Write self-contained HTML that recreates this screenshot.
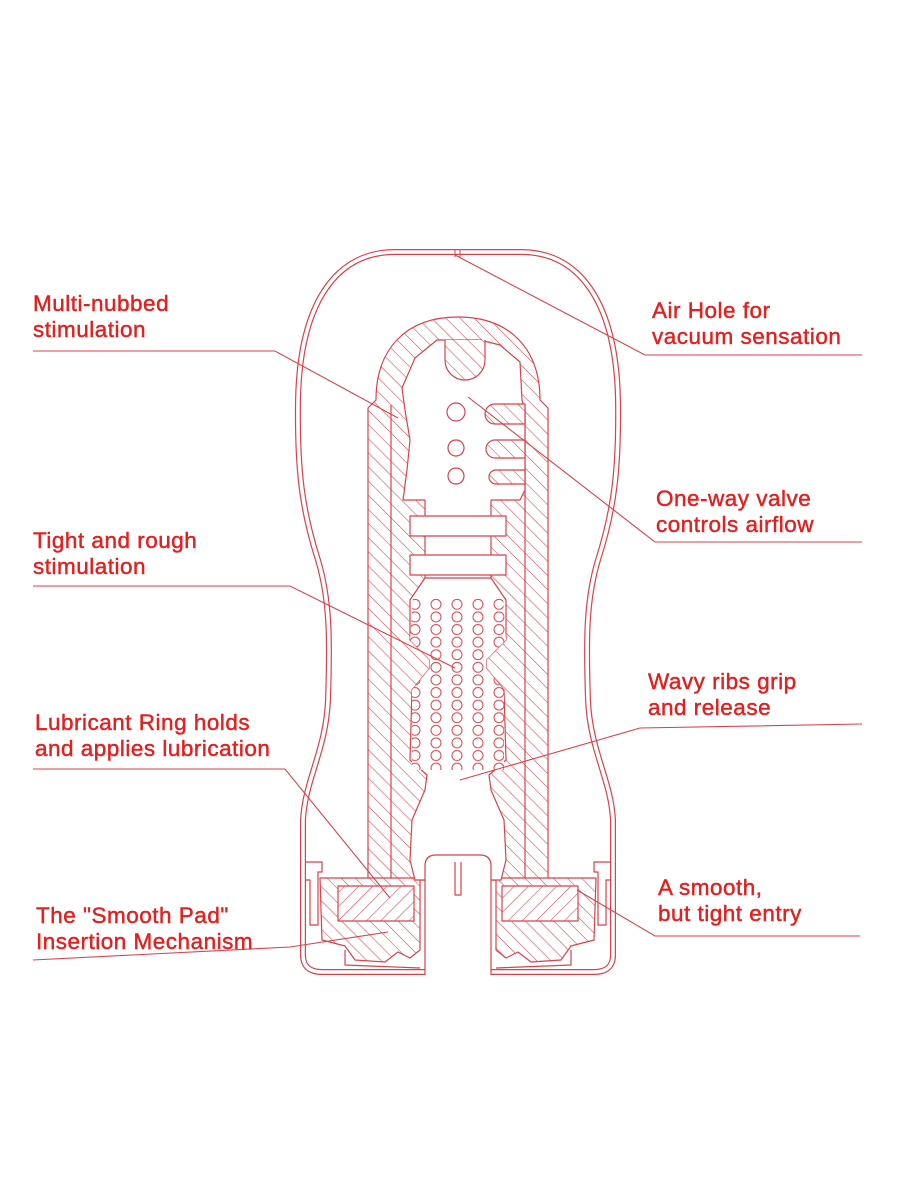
<!DOCTYPE html>
<html><head><meta charset="utf-8"><style>
html,body{margin:0;padding:0;background:#fff}
svg{display:block}
text{font-family:"Liberation Sans",sans-serif;font-size:22.5px;fill:#e3201f;stroke:#e3201f;stroke-width:0.45;letter-spacing:0.5px}
</style></head><body>
<svg width="900" height="1200" viewBox="0 0 900 1200" xmlns="http://www.w3.org/2000/svg">
<defs>
<pattern id="h1" width="10" height="10" patternUnits="userSpaceOnUse" patternTransform="rotate(-45)">
<rect width="10" height="10" fill="#fff"/><line x1="0" y1="0" x2="0" y2="10" stroke="#d8424a" stroke-width="1.1"/></pattern>
<pattern id="h2" width="10" height="10" patternUnits="userSpaceOnUse" patternTransform="rotate(45)">
<rect width="10" height="10" fill="#fff"/><line x1="0" y1="0" x2="0" y2="10" stroke="#d8424a" stroke-width="1.1"/></pattern>
<pattern id="dots" width="21" height="12.6" patternUnits="userSpaceOnUse" x="404.5" y="598">
<rect width="21" height="12.6" fill="#fff"/><circle cx="10.5" cy="6.3" r="5" fill="none" stroke="#d8424a" stroke-width="1"/></pattern>
<path id="shellL" d="M458,252 L395,252 C338,252 300,300 298,400 C297,470 302,510 318,560 C330,600 330,640 328,700 C326,750 305,780 303,820 L303,955 Q303,972 322,972 L425,972"/>
</defs>

<g fill="none" stroke-linejoin="round">
<use href="#shellL" stroke="#d8424a" stroke-width="6"/>
<use href="#shellL" stroke="#fff" stroke-width="3.6"/>
<use href="#shellL" transform="translate(916,0) scale(-1,1)" stroke="#d8424a" stroke-width="6"/>
<use href="#shellL" transform="translate(916,0) scale(-1,1)" stroke="#fff" stroke-width="3.6"/>
<line x1="455" y1="250" x2="455" y2="257" stroke="#d8424a"/>
<line x1="460" y1="250" x2="460" y2="257" stroke="#d8424a"/>
</g>

<g stroke="#d8424a" stroke-width="1.2" stroke-linejoin="round">
<path d="M458,317 C405,317 376,350 376,400 L368,408 L368,880 L548,880 L548,408 L540,400 C540,350 511,317 458,317 Z" fill="url(#h1)"/>
<line x1="391" y1="405" x2="391" y2="878" fill="none"/>
<line x1="525" y1="405" x2="525" y2="878" fill="none"/>
<path d="M320,878 L420,878 L420,950 L410,958 L398,952 L385,962 L355,960 L345,946 L322,940 Z" fill="url(#h1)"/>
<path d="M596,878 L496,878 L496,950 L506,958 L518,952 L531,962 L561,960 L571,946 L594,940 Z" fill="url(#h1)"/>
<rect x="338" y="886" width="76" height="35" fill="url(#h2)"/>
<rect x="502" y="886" width="76" height="35" fill="url(#h2)"/>
<path d="M306,862 L322,862 L322,872 L318,872 L318,925 L310,925 L310,880 L306,880" fill="none"/>
<path d="M610,862 L594,862 L594,872 L598,872 L598,925 L606,925 L606,880 L610,880" fill="none"/>
<path d="M345,950 L345,965 L420,968" fill="none"/>
<path d="M571,950 L571,965 L496,968" fill="none"/>
<path d="M402,388 L415,358 L437,340 L480,340 L500,345 L520,362 L522,400 L525,410 L525,490 L520,500 L403,500 L407,470 L410,440 L405,410 Z" fill="#fff"/>
<path d="M445,340 L445,360 A20,20 0 0 0 485,360 L485,340" fill="url(#h1)"/>
<path d="M525,404 L495,404 A8,8 0 0 0 495,424 L525,424 Z" fill="url(#h1)"/>
<path d="M525,440 L495,440 A9,9 0 0 0 495,458 L525,458 Z" fill="url(#h1)"/>
<path d="M525,470 L496,470 A7,7 0 0 0 496,484 L525,484 Z" fill="url(#h1)"/>
<circle cx="456" cy="412" r="9" fill="#fff"/>
<circle cx="456" cy="448" r="8" fill="#fff"/>
<circle cx="456" cy="476" r="8" fill="#fff"/>
<rect x="425" y="499" width="66" height="92" fill="#fff" stroke="none"/>
<line x1="425" y1="500" x2="425" y2="590"/><line x1="491" y1="500" x2="491" y2="590"/>
<rect x="410" y="516" width="96" height="20" fill="#fff"/>
<rect x="410" y="555" width="96" height="20" fill="#fff"/>
<path d="M425,578 L410,600 L410,640 L430,660 L430,668 L412,690 L410,760 L427,775 L425,790 L412,820 L410,860 L415,880 L501,880 L506,860 L504,820 L491,790 L489,775 L506,760 L504,690 L486,668 L486,660 L506,640 L506,600 L491,578 Z" fill="#fff"/>
<path d="M413,598 L410,640 L430,660 L430,668 L412,690 L412,770 L504,770 L504,690 L486,668 L486,660 L506,640 L503,598 Z" fill="url(#dots)" stroke="none"/>
<path d="M425,975 L425,866 Q425,855 436,855 L480,855 Q491,855 491,866 L491,975" fill="#fff"/>
<path d="M455,862 L455,895 L461,895 L461,862" fill="none"/>
</g>

<g stroke="#d8424a" stroke-width="1.1" fill="none">
<polyline points="33,351 275,351 398,418"/>
<polyline points="862,355 645,355 455,255"/>
<polyline points="862,542 655,542 468,397"/>
<polyline points="33,586 290,586 455,668"/>
<polyline points="862,724 640,728 460,780"/>
<polyline points="33,769 285,769 390,898"/>
<polyline points="33,960 290,947 388,932"/>
<polyline points="860,936 655,936 577,890"/>
</g>

<text x="33" y="311">Multi-nubbed</text>
<text x="33" y="337">stimulation</text>
<text x="652" y="318">Air Hole for</text>
<text x="652" y="344">vacuum sensation</text>
<text x="656" y="506">One-way valve</text>
<text x="656" y="532">controls airflow</text>
<text x="33" y="548">Tight and rough</text>
<text x="33" y="574">stimulation</text>
<text x="648" y="689">Wavy ribs grip</text>
<text x="648" y="715">and release</text>
<text x="35" y="730">Lubricant Ring holds</text>
<text x="35" y="756">and applies lubrication</text>
<text x="36" y="923">The "Smooth Pad"</text>
<text x="36" y="949">Insertion Mechanism</text>
<text x="658" y="895">A smooth,</text>
<text x="658" y="921">but tight entry</text>
</svg>
</body></html>
